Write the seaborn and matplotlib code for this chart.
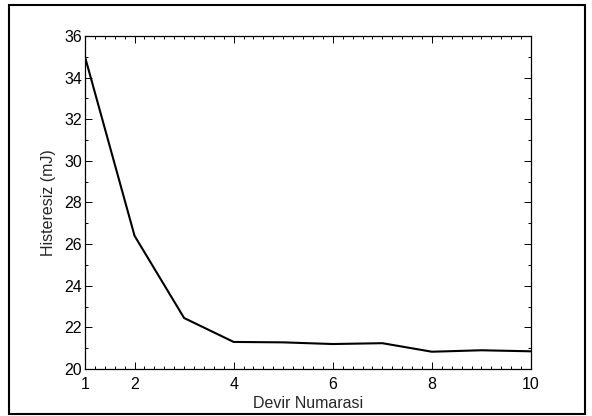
import matplotlib
matplotlib.use("Agg")
import matplotlib.pyplot as plt
from matplotlib.patches import Rectangle
from matplotlib.ticker import MultipleLocator, FixedLocator
import seaborn as sns
import pandas as pd

cycles = [1, 2, 3, 4, 5, 6, 7, 8, 9, 10]
hysteresis = [35.0, 26.4, 22.45, 21.3, 21.28, 21.2, 21.24, 20.83, 20.9, 20.85]
x_ticks = [1, 2, 4, 6, 8, 10]
y_ticks = [20, 22, 24, 26, 28, 30, 32, 34, 36]

sns.set_style("ticks")
plt.rcParams['font.family'] = ['Liberation Sans', 'DejaVu Sans']

df = pd.DataFrame({"x": cycles, "y": hysteresis})

fig = plt.figure(figsize=(5.92, 4.16), dpi=100)
ax = fig.add_axes([85/592, 47/416, 446/592, 333/416])
sns.lineplot(data=df, x="x", y="y", ax=ax, color="black", linewidth=1.5)

ax.set_xlim(1, 10)
ax.set_ylim(20, 36)
ax.xaxis.set_major_locator(FixedLocator(x_ticks))
ax.yaxis.set_major_locator(FixedLocator(y_ticks))
ax.xaxis.set_minor_locator(MultipleLocator(0.2))
ax.yaxis.set_minor_locator(MultipleLocator(1))
ax.tick_params(which="both", direction="in", top=True, right=True, colors="black",
               labelsize=11.5, width=0.7)
ax.tick_params(which="major", length=5)
ax.tick_params(axis="x", which="major", pad=6)
ax.tick_params(axis="y", which="major", pad=2)
ax.tick_params(which="minor", length=2.5)
for s in ax.spines.values():
    s.set_linewidth(0.9)
    s.set_color("black")
ax.set_xlabel("Devir Numarasi", fontsize=11.5, labelpad=3)
ax.set_ylabel("Histeresiz (mJ)", fontsize=11.5, labelpad=6)

fig.patches.append(Rectangle((9/592, 2/416), 576/592, 409/416, transform=fig.transFigure,
                             fill=False, edgecolor="black", linewidth=1.5))

fig.savefig("out.png", dpi=100)
